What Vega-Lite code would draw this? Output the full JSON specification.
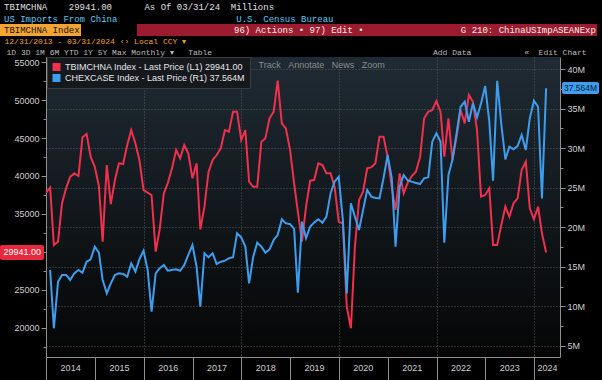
{
  "$schema": "https://vega.github.io/schema/vega-lite/v6.json",
  "width": 514,
  "height": 300,
  "autosize": {"type": "none"},
  "padding": {"left": 46, "top": 57, "right": 42, "bottom": 23},
  "background": "#000000",
  "config": {
    "view": {"stroke": null, "fill": {"gradient": "linear", "x1": 0, "y1": 0, "x2": 0, "y2": 1, "stops": [{"offset": 0, "color": "#1f2b34"}, {"offset": 1, "color": "#050505"}]}},
    "font": "Liberation Sans",
    "axis": {"domainColor": "#8f8f8f", "tickColor": "#8f8f8f", "labelColor": "#cfcfcf", "labelFontSize": 9, "labelFont": "Liberation Sans", "titleFont": "Liberation Mono", "titleFontWeight": "normal", "titleFontSize": 8}
  },
  "title": {
    "text": "TBIMCHNA\u00a0\u00a0\u00a0\u00a029941.00\u00a0\u00a0\u00a0\u00a0\u00a0\u00a0As\u00a0Of\u00a003/31/24\u00a0\u00a0Millions",
    "subtitle": "\u00a0US\u00a0Imports\u00a0From\u00a0China\u00a0\u00a0\u00a0\u00a0\u00a0\u00a0\u00a0\u00a0\u00a0\u00a0\u00a0\u00a0\u00a0\u00a0\u00a0\u00a0\u00a0\u00a0\u00a0\u00a0\u00a0\u00a0U.S.\u00a0Census\u00a0Bureau",
    "anchor": "start",
    "frame": "group",
    "dx": -42,
    "offset": 0,
    "font": "Liberation Mono",
    "fontSize": 9,
    "fontWeight": "normal",
    "color": "#e0e0e0",
    "subtitleFont": "Liberation Mono",
    "subtitleFontSize": 9,
    "subtitleColor": "#5bc8ee",
    "subtitlePadding": 3
  },
  "data": {"values": [
    {"d":"2013-12-31","a":37800,"b":null},
    {"d":"2014-01-31","a":38460,"b":14.59},
    {"d":"2014-02-28","a":30920,"b":7.22},
    {"d":"2014-03-31","a":31350,"b":13.11},
    {"d":"2014-04-30","a":36440,"b":13.96},
    {"d":"2014-05-31","a":38420,"b":13.96},
    {"d":"2014-06-30","a":39900,"b":13.33},
    {"d":"2014-07-31","a":40350,"b":14.17},
    {"d":"2014-08-31","a":40000,"b":14.59},
    {"d":"2014-09-30","a":45090,"b":14.25},
    {"d":"2014-10-31","a":45530,"b":15.64},
    {"d":"2014-11-30","a":42540,"b":15.94},
    {"d":"2014-12-31","a":41220,"b":17.54},
    {"d":"2015-01-31","a":38680,"b":16.78},
    {"d":"2015-02-28","a":31350,"b":13.33},
    {"d":"2015-03-31","a":41450,"b":11.64},
    {"d":"2015-04-30","a":36310,"b":12.9},
    {"d":"2015-05-31","a":39470,"b":13.96},
    {"d":"2015-06-30","a":41670,"b":14.17},
    {"d":"2015-07-31","a":41580,"b":14.1},
    {"d":"2015-08-31","a":44080,"b":13.74},
    {"d":"2015-09-30","a":46050,"b":15.43},
    {"d":"2015-10-31","a":44300,"b":14.38},
    {"d":"2015-11-30","a":42100,"b":15.94},
    {"d":"2015-12-31","a":38160,"b":17.03},
    {"d":"2016-01-31","a":37800,"b":14.59},
    {"d":"2016-02-29","a":37500,"b":9.32},
    {"d":"2016-03-31","a":30040,"b":14.17},
    {"d":"2016-04-30","a":33000,"b":14.8},
    {"d":"2016-05-31","a":37720,"b":15.22},
    {"d":"2016-06-30","a":39100,"b":14.5},
    {"d":"2016-07-31","a":41000,"b":14.6},
    {"d":"2016-08-31","a":43420,"b":14.68},
    {"d":"2016-09-30","a":42330,"b":14.5},
    {"d":"2016-10-31","a":44080,"b":15.22},
    {"d":"2016-11-30","a":42980,"b":16.5},
    {"d":"2016-12-31","a":39690,"b":17.75},
    {"d":"2017-01-31","a":41670,"b":15.0},
    {"d":"2017-02-28","a":32980,"b":9.95},
    {"d":"2017-03-31","a":35960,"b":16.7},
    {"d":"2017-04-30","a":40500,"b":16.2},
    {"d":"2017-05-31","a":42100,"b":16.7},
    {"d":"2017-06-30","a":42760,"b":15.35},
    {"d":"2017-07-31","a":43640,"b":15.64},
    {"d":"2017-08-31","a":46050,"b":15.77},
    {"d":"2017-09-30","a":45830,"b":16.07},
    {"d":"2017-10-31","a":48460,"b":16.2},
    {"d":"2017-11-30","a":48460,"b":19.23},
    {"d":"2017-12-31","a":44730,"b":18.72},
    {"d":"2018-01-31","a":46050,"b":17.54},
    {"d":"2018-02-28","a":39250,"b":12.9},
    {"d":"2018-03-31","a":38590,"b":16.27},
    {"d":"2018-04-30","a":38590,"b":18.04},
    {"d":"2018-05-31","a":44510,"b":17.54},
    {"d":"2018-06-30","a":44960,"b":16.78},
    {"d":"2018-07-31","a":47590,"b":17.2},
    {"d":"2018-08-31","a":48460,"b":18.38},
    {"d":"2018-09-30","a":52540,"b":19.01},
    {"d":"2018-10-31","a":46920,"b":21.0},
    {"d":"2018-11-30","a":46270,"b":20.49},
    {"d":"2018-12-31","a":43500,"b":20.4},
    {"d":"2019-01-31","a":39040,"b":19.8},
    {"d":"2019-02-28","a":35300,"b":11.72},
    {"d":"2019-03-31","a":31350,"b":20.7},
    {"d":"2019-04-30","a":35960,"b":18.6},
    {"d":"2019-05-31","a":39380,"b":20.06},
    {"d":"2019-06-30","a":39470,"b":20.6},
    {"d":"2019-07-31","a":41670,"b":21.0},
    {"d":"2019-08-31","a":41450,"b":20.57},
    {"d":"2019-09-30","a":40350,"b":21.33},
    {"d":"2019-10-31","a":40350,"b":24.29},
    {"d":"2019-11-30","a":38590,"b":25.75},
    {"d":"2019-12-31","a":33980,"b":26.38},
    {"d":"2020-01-31","a":33770,"b":20.9},
    {"d":"2020-02-29","a":22800,"b":11.64},
    {"d":"2020-03-31","a":19960,"b":23.02},
    {"d":"2020-04-30","a":30700,"b":21.33},
    {"d":"2020-05-31","a":36840,"b":19.65},
    {"d":"2020-06-30","a":37930,"b":22.17},
    {"d":"2020-07-31","a":41010,"b":24.7},
    {"d":"2020-08-31","a":41140,"b":23.86},
    {"d":"2020-09-30","a":41670,"b":23.7},
    {"d":"2020-10-31","a":45170,"b":23.65},
    {"d":"2020-11-30","a":45170,"b":26.18},
    {"d":"2020-12-31","a":42540,"b":29.13},
    {"d":"2021-01-31","a":38500,"b":26.18},
    {"d":"2021-02-28","a":35530,"b":17.54},
    {"d":"2021-03-31","a":40350,"b":25.12},
    {"d":"2021-04-30","a":37720,"b":26.6},
    {"d":"2021-05-31","a":39150,"b":25.9},
    {"d":"2021-06-30","a":40000,"b":25.75},
    {"d":"2021-07-31","a":40570,"b":25.6},
    {"d":"2021-08-31","a":42540,"b":25.46},
    {"d":"2021-09-30","a":47590,"b":26.18},
    {"d":"2021-10-31","a":48460,"b":26.31},
    {"d":"2021-11-30","a":48680,"b":30.81},
    {"d":"2021-12-31","a":49870,"b":31.87},
    {"d":"2022-01-31","a":48460,"b":30.81},
    {"d":"2022-02-28","a":42540,"b":18.04},
    {"d":"2022-03-31","a":47590,"b":26.6},
    {"d":"2022-04-30","a":42100,"b":28.5},
    {"d":"2022-05-31","a":45170,"b":31.87},
    {"d":"2022-06-30","a":48680,"b":35.23},
    {"d":"2022-07-31","a":46930,"b":35.87},
    {"d":"2022-08-31","a":50660,"b":33.34},
    {"d":"2022-09-30","a":49780,"b":35.66},
    {"d":"2022-10-31","a":46050,"b":33.89},
    {"d":"2022-11-30","a":37280,"b":35.66},
    {"d":"2022-12-31","a":37500,"b":37.85},
    {"d":"2023-01-31","a":38380,"b":33.34},
    {"d":"2023-02-28","a":30920,"b":25.88},
    {"d":"2023-03-31","a":30920,"b":38.52},
    {"d":"2023-04-30","a":33500,"b":33.14},
    {"d":"2023-05-31","a":35960,"b":28.58},
    {"d":"2023-06-30","a":34640,"b":30.18},
    {"d":"2023-07-31","a":36400,"b":29.85},
    {"d":"2023-08-31","a":37060,"b":30.27},
    {"d":"2023-09-30","a":40790,"b":31.66},
    {"d":"2023-10-31","a":41890,"b":29.76},
    {"d":"2023-11-30","a":35740,"b":33.77},
    {"d":"2023-12-31","a":34300,"b":35.99},
    {"d":"2024-01-31","a":35960,"b":35.23},
    {"d":"2024-02-29","a":32450,"b":23.65},
    {"d":"2024-03-31","a":29941,"b":37.564}
  ]},
  "encoding": {
    "x": {
      "field": "d",
      "type": "temporal",
      "scale": {"type": "utc", "domain": [{"year": 2013, "month": 12, "date": 31, "utc": true}, {"year": 2024, "month": 7, "date": 13, "utc": true}]},
      "axis": {
        "values": [
          {"year": 2014, "month": 1, "date": 1, "utc": true},
          {"year": 2015, "month": 1, "date": 1, "utc": true},
          {"year": 2016, "month": 1, "date": 1, "utc": true},
          {"year": 2017, "month": 1, "date": 1, "utc": true},
          {"year": 2018, "month": 1, "date": 1, "utc": true},
          {"year": 2019, "month": 1, "date": 1, "utc": true},
          {"year": 2020, "month": 1, "date": 1, "utc": true},
          {"year": 2021, "month": 1, "date": 1, "utc": true},
          {"year": 2022, "month": 1, "date": 1, "utc": true},
          {"year": 2023, "month": 1, "date": 1, "utc": true},
          {"year": 2024, "month": 1, "date": 1, "utc": true}
        ],
        "labelExpr": "utcFormat(datum.value, '%Y')",
        "labelAlign": "center",
        "labelOffset": {"condition": {"test": "utcyear(datum.value) == 2024", "value": 13}, "value": 24},
        "labelPadding": -17,
        "labelFlush": false,
        "labelOverlap": false,
        "tickSize": 23,
        "grid": true,
        "gridColor": "#5f5f5f",
        "gridDash": [1, 2],
        "gridOpacity": {"condition": {"test": "utcyear(datum.value) % 2 == 0 && utcyear(datum.value) > 2014", "value": 0.9}, "value": 0},
        "title": "Track\u00a0\u00a0\u00a0Annotate\u00a0\u00a0\u00a0News\u00a0\u00a0\u00a0Zoom",
        "titleFont": "Liberation Sans",
        "titleColor": "#8c8c8c",
        "titleFontSize": 9,
        "titleAnchor": "start",
        "titleAlign": "left",
        "titleBaseline": "middle",
        "titleX": 212,
        "titleY": -293
      }
    }
  },
  "layer": [
    {
      "mark": {"type": "line", "strokeWidth": 2, "interpolate": "linear"},
      "encoding": {
        "y": {
          "field": "a",
          "type": "quantitative",
          "scale": {"domain": [16180, 55660], "nice": false, "zero": false},
          "axis": {
            "orient": "left",
            "values": [17500, 20000, 22500, 25000, 27500, 30000, 32500, 35000, 37500, 40000, 42500, 45000, 47500, 50000, 52500, 55000],
            "labelExpr": "datum.value % 5000 == 0 && datum.value != 30000 ? format(datum.value, 'd') : ''",
            "tickSize": {"condition": {"test": "datum.value % 5000 == 0", "value": 5}, "value": 3},
            "labelPadding": 2,
            "grid": false,
            "title": "12/31/2013\u00a0-\u00a003/31/2024\u00a0‹›\u00a0Local\u00a0CCY\u00a0▾",
            "titleAngle": 0,
            "titleAlign": "left",
            "titleBaseline": "middle",
            "titleX": -42,
            "titleY": -16,
            "titleColor": "#f0a030"
          }
        },
        "color": {
          "datum": "TBIMCHNA Index - Last Price (L1) 29941.00",
          "type": "nominal",
          "scale": {"domain": ["TBIMCHNA Index - Last Price (L1) 29941.00", "CHEXCASE Index - Last Price (R1) 37.564M"], "range": ["#f0304c", "#3d9ef0"]},
          "legend": {
            "orient": "none", "legendX": 1, "legendY": 0, "title": null,
            "fillColor": "#15191e", "strokeColor": "#3c3c3c", "padding": 5,
            "symbolType": "square", "symbolSize": 16, "symbolStrokeWidth": 4, "symbolOpacity": 1,
            "labelColor": "#e6e6e6", "labelFontSize": 9, "labelFont": "Liberation Sans",
            "labelOffset": 4, "rowPadding": 1, "clipHeight": 10, "labelLimit": 400
          }
        },
        "strokeDash": {
          "datum": "TBIMCHNA\u00a0Index\u00a0\u00a0\u00a0\u00a0\u00a0\u00a0\u00a0\u00a0\u00a0\u00a0",
          "type": "nominal",
          "scale": {"range": [[1, 0]]},
          "legend": {
            "orient": "none", "legendX": -46, "legendY": -33, "title": null,
            "fillColor": "#f4a433", "padding": 1,
            "symbolSize": 0, "symbolOpacity": 0, "symbolStrokeWidth": 0, "labelOffset": -6,
            "labelColor": "#111111", "labelFont": "Liberation Mono", "labelFontSize": 9, "labelLimit": 600
          }
        }
      }
    },
    {
      "mark": {"type": "line", "strokeWidth": 2, "interpolate": "linear"},
      "encoding": {
        "y": {
          "field": "b",
          "type": "quantitative",
          "scale": {"domain": [3.59, 41.52], "nice": false, "zero": false},
          "axis": {
            "orient": "right",
            "values": [5, 7.5, 10, 12.5, 15, 17.5, 20, 22.5, 25, 27.5, 30, 32.5, 35, 37.5, 40],
            "labelExpr": "datum.value % 5 == 0 ? datum.value + 'M' : ''",
            "tickSize": {"condition": {"test": "datum.value % 5 == 0", "value": 5}, "value": 3},
            "labelPadding": 2,
            "grid": true,
            "gridColor": "#5f5f5f",
            "gridDash": [1, 2],
            "gridOpacity": {"condition": {"test": "datum.value % 5 == 0", "value": 0.9}, "value": 0},
            "title": "1D\u00a03D\u00a01M\u00a06M\u00a0YTD\u00a01Y\u00a05Y\u00a0Max\u00a0Monthly\u00a0▾\u00a0\u00a0\u00a0Table\u00a0\u00a0\u00a0\u00a0\u00a0\u00a0\u00a0\u00a0\u00a0\u00a0\u00a0\u00a0\u00a0\u00a0\u00a0\u00a0\u00a0\u00a0\u00a0\u00a0\u00a0\u00a0\u00a0\u00a0\u00a0\u00a0\u00a0\u00a0\u00a0\u00a0\u00a0\u00a0\u00a0\u00a0\u00a0\u00a0\u00a0\u00a0\u00a0\u00a0\u00a0\u00a0\u00a0\u00a0\u00a0\u00a0Add\u00a0Data\u00a0\u00a0\u00a0\u00a0\u00a0\u00a0\u00a0\u00a0\u00a0\u00a0\u00a0«\u00a0\u00a0Edit\u00a0Chart",
            "titleAngle": 0,
            "titleAlign": "left",
            "titleBaseline": "middle",
            "titleX": -554,
            "titleY": -5,
            "titleColor": "#bdbdbd"
          }
        },
        "color": {"datum": "CHEXCASE Index - Last Price (R1) 37.564M", "type": "nominal"},
        "strokeDash": {
          "datum": "96)\u00a0Actions\u00a0•\u00a097)\u00a0Edit\u00a0•\u00a0\u00a0\u00a0\u00a0\u00a0\u00a0\u00a0\u00a0\u00a0\u00a0\u00a0\u00a0\u00a0\u00a0\u00a0\u00a0\u00a0\u00a0G\u00a0210:\u00a0ChinaUSImpASEANExp\u00a0",
          "type": "nominal",
          "scale": {"range": [[1, 0]]},
          "legend": {
            "orient": "none", "legendX": 91, "legendY": -33, "title": null,
            "fillColor": "#9c1b2e", "padding": 1,
            "symbolSize": 0, "symbolOpacity": 0, "symbolStrokeWidth": 0, "labelOffset": 87,
            "labelColor": "#f0f0f0", "labelFont": "Liberation Mono", "labelFontSize": 9, "labelLimit": 600
          }
        }
      }
    },
    {
      "mark": {"type": "point", "opacity": 0},
      "encoding": {
        "shape": {
          "datum": "29941.00",
          "type": "nominal",
          "legend": {
            "orient": "none", "legendX": -46, "legendY": 188, "title": null,
            "fillColor": "#e8283c", "cornerRadius": 2, "padding": 2.5,
            "symbolSize": 0, "symbolOpacity": 0, "symbolStrokeWidth": 0, "labelOffset": -8,
            "labelColor": "#ffffff", "labelFont": "Liberation Sans", "labelFontSize": 9
          }
        }
      }
    },
    {
      "mark": {"type": "point", "opacity": 0},
      "encoding": {
        "shape": {
          "datum": "37.564M",
          "type": "nominal",
          "legend": {
            "orient": "none", "legendX": 516, "legendY": 25, "title": null,
            "fillColor": "#3d9ef0", "cornerRadius": 2, "padding": 1.5,
            "symbolSize": 0, "symbolOpacity": 0, "symbolStrokeWidth": 0, "labelOffset": -8,
            "labelColor": "#0a1a2a", "labelFont": "Liberation Sans", "labelFontSize": 8.5
          }
        }
      }
    }
  ],
  "resolve": {"scale": {"y": "independent", "strokeDash": "independent", "shape": "independent"}}
}
